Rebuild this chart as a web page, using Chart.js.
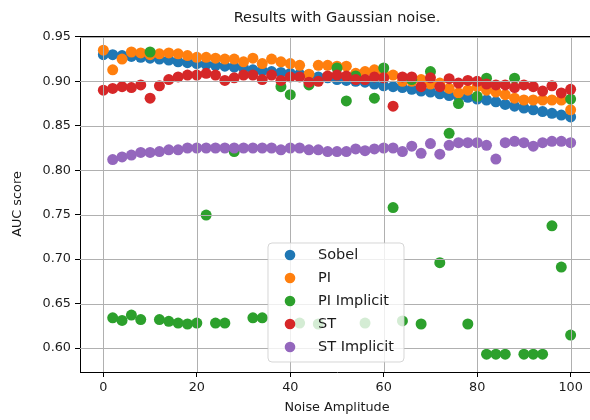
<!DOCTYPE html>
<html>
<head>
<meta charset="utf-8">
<script src="https://cdn.jsdelivr.net/npm/chart.js@4"></script>
<style>
  html, body { margin: 0; padding: 0; overflow: hidden; background: #fff; }
  canvas { display: block; }
</style>
</head>
<body>
<canvas id="chart" width="608" height="420"></canvas>
<script>
// Noise amplitudes used for the runs
const noise = [0, 2, 4, 6, 8, 10, 12, 14, 16, 18, 20, 22, 24, 26, 28, 30, 32, 34, 36, 38, 40,
  42, 44, 46, 48, 50, 52, 54, 56, 58, 60, 62, 64, 66, 68, 70, 72, 74, 76, 78, 80,
  82, 84, 86, 88, 90, 92, 94, 96, 98, 100];

// AUC scores per method
const sobel = [0.930, 0.930, 0.929, 0.928, 0.927, 0.926, 0.925, 0.924, 0.922, 0.921, 0.920,
  0.919, 0.918, 0.917, 0.916, 0.915, 0.913, 0.912, 0.911, 0.910, 0.909,
  0.908, 0.907, 0.905, 0.904, 0.902, 0.901, 0.900, 0.899, 0.897, 0.895,
  0.894, 0.893, 0.891, 0.889, 0.888, 0.886, 0.884, 0.883, 0.882, 0.880,
  0.879, 0.877, 0.874, 0.872, 0.870, 0.868, 0.866, 0.864, 0.862, 0.860];

const pi = [0.935, 0.913, 0.925, 0.933, 0.932, 0.930, 0.931, 0.932, 0.931, 0.929, 0.927,
  0.927, 0.926, 0.925, 0.925, 0.922, 0.926, 0.920, 0.925, 0.922, 0.920,
  0.918, 0.908, 0.918, 0.918, 0.917, 0.917, 0.909, 0.911, 0.913, 0.908,
  0.907, 0.900, 0.900, 0.902, 0.897, 0.898, 0.892, 0.887, 0.890, 0.894,
  0.890, 0.888, 0.885, 0.881, 0.879, 0.879, 0.879, 0.879, 0.879, 0.868];

const st = [0.890, 0.892, 0.894, 0.893, 0.896, 0.881, 0.895, 0.902, 0.905, 0.907, 0.907,
  0.909, 0.907, 0.901, 0.904, 0.907, 0.907, 0.902, 0.907, 0.901, 0.905,
  0.905, 0.899, 0.900, 0.906, 0.907, 0.906, 0.902, 0.902, 0.905, 0.904,
  0.872, 0.905, 0.905, 0.894, 0.904, 0.894, 0.903, 0.898, 0.901, 0.900,
  0.897, 0.896, 0.896, 0.893, 0.896, 0.894, 0.889, 0.895, 0.887, 0.891];

const stImplicit = [null, 0.812, 0.815, 0.817, 0.820, 0.820, 0.821, 0.823, 0.823, 0.825, 0.825,
  0.825, 0.825, 0.825, 0.825, 0.825, 0.825, 0.825, 0.825, 0.823, 0.825,
  0.825, 0.823, 0.823, 0.821, 0.821, 0.821, 0.824, 0.822, 0.824, 0.825,
  0.825, 0.821, 0.827, 0.819, 0.830, 0.818, 0.828, 0.831, 0.831, 0.831,
  0.828, 0.8125, 0.831, 0.8325, 0.831, 0.827, 0.831, 0.8325, 0.8325, 0.831];

// PI Implicit has its own list of runs (some amplitudes repeated)
const piImplicitNoise = [2, 4, 6, 8, 10, 12, 14, 16, 18, 20, 22, 24, 26, 28, 32, 34, 38, 40,
  42, 44, 46, 50, 52, 54, 56, 58, 60, 62, 64, 66, 68, 70, 72, 74, 76, 78, 80,
  82, 82, 84, 86, 88, 90, 92, 94, 96, 98, 100, 100];
const piImplicit = [0.634, 0.631, 0.637, 0.632, 0.933, 0.632, 0.630, 0.628, 0.627, 0.628,
  0.7495, 0.628, 0.628, 0.821, 0.634, 0.634, 0.894, 0.885,
  0.628, 0.896, 0.627, 0.915, 0.878, 0.906, 0.628, 0.881, 0.915, 0.758, 0.6305, 0.902,
  0.627, 0.911, 0.696, 0.8415, 0.875, 0.627, 0.883,
  0.9035, 0.593, 0.593, 0.593, 0.9035, 0.593, 0.593, 0.593, 0.7375, 0.691, 0.880, 0.6145];

const xTicks = [0, 20, 40, 60, 80, 100];
const yTicks = [0.60, 0.65, 0.70, 0.75, 0.80, 0.85, 0.90, 0.95];

const seriesNames = ['Sobel', 'PI', 'PI Implicit', 'ST', 'ST Implicit'];
const seriesColors = ['#1f77b4', '#ff7f0e', '#2ca02c', '#d62728', '#9467bd'];

const toPoints = (xs, ys) => xs.map((x, i) => ({ x: x, y: ys[i] })).filter(p => p.y !== null);

const seriesData = [
  toPoints(noise, sobel),
  toPoints(noise, pi),
  toPoints(piImplicitNoise, piImplicit),
  toPoints(noise, st),
  toPoints(noise, stImplicit)
];

const FONT = "'DejaVu Sans', sans-serif";
const TEXT = '#1a1a1a';

// Grid lines sit above the markers, followed by the frame's top edge
const gridOver = {
  id: 'gridOver',
  afterDatasetsDraw(chart) {
    const { ctx, chartArea: a, scales } = chart;
    ctx.save();
    ctx.strokeStyle = '#b0b0b0';
    ctx.lineWidth = 1;
    ctx.beginPath();
    xTicks.forEach(v => {
      const px = Math.round(scales.x.getPixelForValue(v)) + 0.5;
      ctx.moveTo(px, a.top); ctx.lineTo(px, a.bottom);
    });
    yTicks.forEach(v => {
      const py = Math.round(scales.y.getPixelForValue(v)) + 0.5;
      ctx.moveTo(a.left, py); ctx.lineTo(a.right, py);
    });
    ctx.stroke();
    ctx.strokeStyle = '#000';
    ctx.beginPath();
    ctx.moveTo(a.left, a.top + 0.5); ctx.lineTo(a.right, a.top + 0.5);
    ctx.stroke();
    ctx.restore();
  }
};

// Title, axis titles and the in-plot legend
const decorations = {
  id: 'decorations',
  afterDraw(chart) {
    const { ctx, chartArea: a } = chart;
    const cx = (a.left + a.right) / 2;
    ctx.save();
    ctx.fillStyle = TEXT;
    ctx.textAlign = 'center';
    ctx.textBaseline = 'middle';
    ctx.font = `14.5px ${FONT}`;
    ctx.fillText('Results with Gaussian noise.', cx, 18);

    ctx.font = `12.8px ${FONT}`;
    ctx.fillText('Noise Amplitude', cx, 408);
    ctx.save();
    ctx.translate(18, (a.top + a.bottom) / 2);
    ctx.rotate(-Math.PI / 2);
    ctx.fillText('AUC score', 0, 0);
    ctx.restore();

    // legend box
    const bx = 268, by = 243, bw = 136, bh = 119, r = 4;
    ctx.beginPath();
    ctx.moveTo(bx + r, by);
    ctx.arcTo(bx + bw, by, bx + bw, by + bh, r);
    ctx.arcTo(bx + bw, by + bh, bx, by + bh, r);
    ctx.arcTo(bx, by + bh, bx, by, r);
    ctx.arcTo(bx, by, bx + bw, by, r);
    ctx.closePath();
    ctx.fillStyle = 'rgba(255,255,255,0.8)';
    ctx.fill();
    ctx.strokeStyle = 'rgba(204,204,204,0.8)';
    ctx.lineWidth = 1;
    ctx.stroke();

    ctx.font = `14.5px ${FONT}`;
    ctx.textAlign = 'left';
    chart.data.datasets.forEach((ds, i) => {
      const y = 255 + i * 23;
      ctx.fillStyle = ds.backgroundColor;
      ctx.beginPath();
      ctx.arc(290, y, 5.3, 0, Math.PI * 2);
      ctx.fill();
      ctx.fillStyle = TEXT;
      ctx.fillText(ds.label, 318, y);
    });
    ctx.restore();
  }
};

new Chart(document.getElementById('chart'), {
  type: 'scatter',
  data: {
    datasets: seriesNames.map((name, i) => ({
      label: name,
      data: seriesData[i],
      backgroundColor: seriesColors[i],
      borderWidth: 0,
      pointRadius: 5.5,
      pointHoverRadius: 5.5,
      order: seriesNames.length - 1 - i
    }))
  },
  options: {
    responsive: false,
    animation: false,
    devicePixelRatio: 1,
    // the plot frame runs slightly past the visible right edge of the page
    layout: { padding: { top: 36, right: 14, left: 0, bottom: 0 } },
    plugins: {
      legend: { display: false },
      title: { display: false },
      tooltip: { enabled: false }
    },
    scales: {
      x: {
        type: 'linear',
        min: -5,
        max: 105,
        afterBuildTicks: s => { s.ticks = xTicks.map(v => ({ value: v })); },
        afterFit: s => { s.height = 48; },
        ticks: { font: { family: FONT, size: 12.8 }, color: TEXT, padding: 3, maxRotation: 0 },
        grid: { drawOnChartArea: false, drawTicks: true, tickLength: 5, tickColor: '#000', tickWidth: 1 },
        border: { display: true, color: '#000', width: 1 }
      },
      y: {
        type: 'linear',
        min: 0.573,
        max: 0.951,
        afterBuildTicks: s => { s.ticks = yTicks.map(v => ({ value: v })); },
        afterFit: s => { s.width = 80; },
        ticks: { font: { family: FONT, size: 12.8 }, color: TEXT, padding: 4, callback: v => v.toFixed(2) },
        grid: { drawOnChartArea: false, drawTicks: true, tickLength: 5, tickColor: '#000', tickWidth: 1 },
        border: { display: true, color: '#000', width: 1 }
      }
    }
  },
  plugins: [gridOver, decorations]
});
</script>
</body>
</html>
